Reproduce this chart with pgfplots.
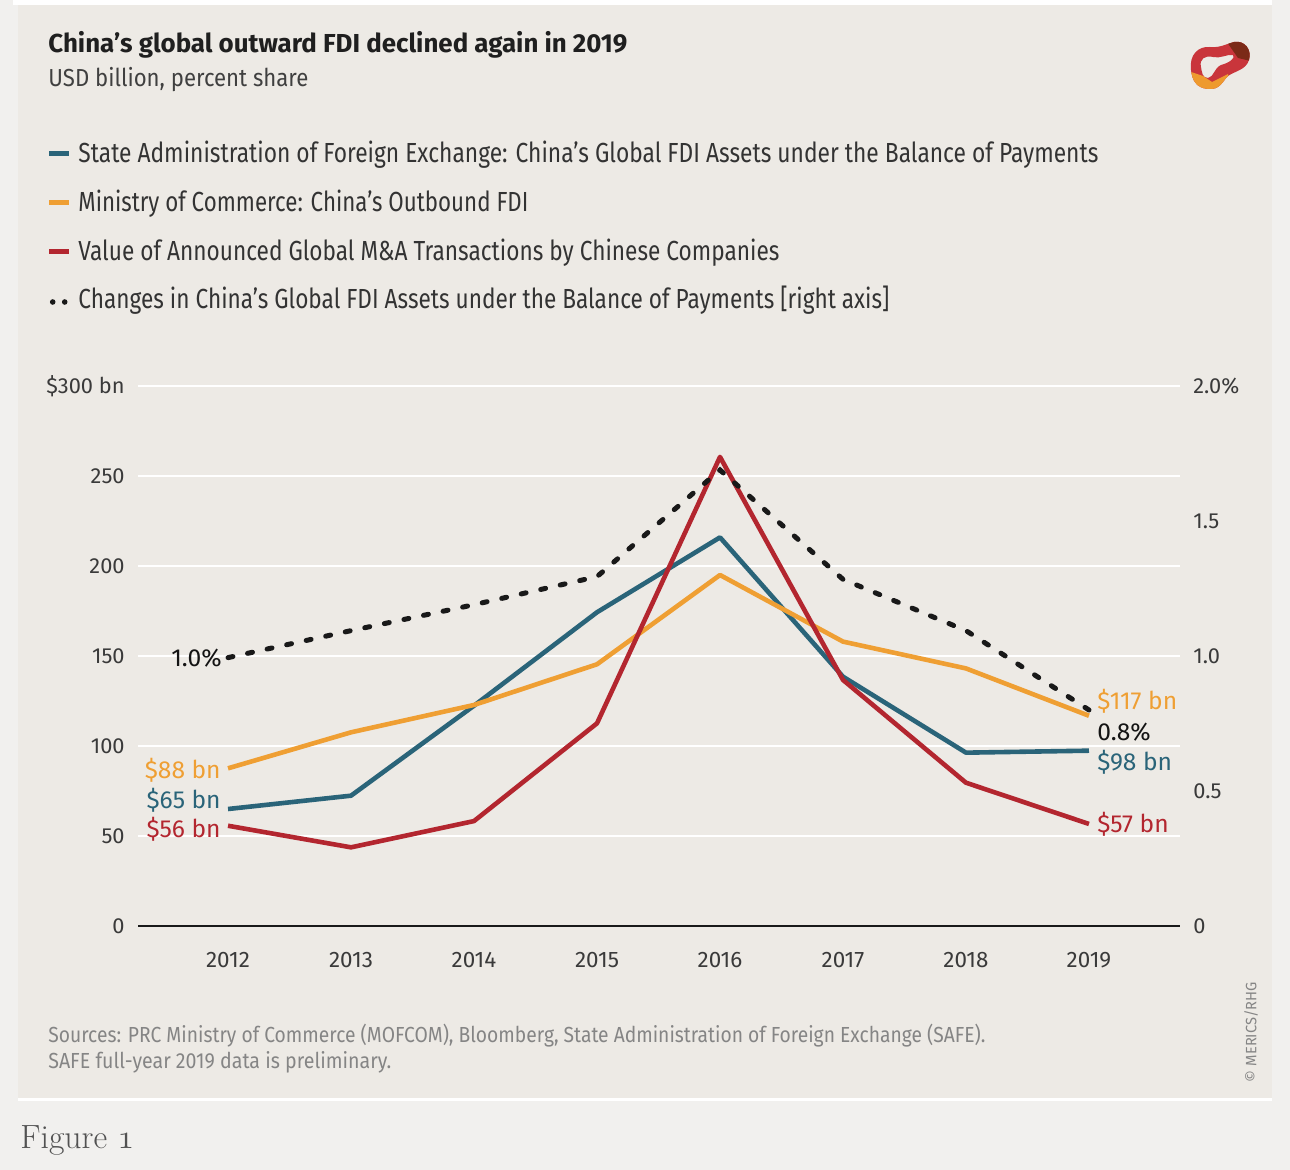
\documentclass[border=0pt]{standalone}
\usepackage{pgfplots}
\pgfplotsset{compat=1.18}
\usepackage{graphicx}
\usepackage{fontspec}
\setmainfont{Fira Sans}
\definecolor{outerbg}{HTML}{F1F0EE}
\definecolor{panelbg}{HTML}{EDEAE5}
\definecolor{cblue}{HTML}{2A6479}
\definecolor{corange}{HTML}{EF9F33}
\definecolor{cred}{HTML}{B3262F}
\definecolor{tickgray}{HTML}{3A3A3A}
\definecolor{srcgray}{HTML}{858585}
\definecolor{logored}{HTML}{C9353B}
\definecolor{logodark}{HTML}{7B2A17}
\definecolor{logoorange}{HTML}{EE9A2E}
\newcommand\fitw[2]{\resizebox{#1}{\height}{#2}}
\newcommand\fs[1]{\fontsize{#1}{#1}\selectfont}

\begin{document}
\begin{tikzpicture}
\useasboundingbox (0pt,0pt) rectangle (645pt,-585pt);
\begin{scope}[x=0.5pt,y=-0.5pt]
 \fill[outerbg] (0,0) rectangle (1290,1170);
 \fill[white] (13,0) rectangle (1272,5);
 \fill[panelbg] (18,5) rectangle (1272,1098);
 \fill[white] (18,1098) rectangle (1272,1101);
 % title and subtitle
 \node[anchor=base west, inner sep=0, text=black!88] at (48,53)
   {\fitw{289.5pt}{\fs{13}\bfseries China’s global outward FDI declined again in 2019}};
 \node[anchor=base west, inner sep=0, text=black!75] at (48,87)
   {\fitw{130pt}{\fs{12.3}USD billion, percent share}};
 % legend
 \draw[cblue, line width=2.5pt] (49,154) -- (69,154);
 \draw[corange, line width=2.5pt] (49,203) -- (69,203);
 \draw[cred, line width=2.5pt] (49,252) -- (69,252);
 \fill[black!90] (52.7,302) circle[radius=1.4pt];
 \fill[black!90] (64.7,302) circle[radius=1.4pt];
 \node[anchor=base west, inner sep=0, text=black!80] at (78,163)
   {\fitw{510pt}{\fs{13.8}State Administration of Foreign Exchange: China’s Global FDI Assets under the Balance of Payments}};
 \node[anchor=base west, inner sep=0, text=black!80] at (78,212)
   {\fitw{225pt}{\fs{13.8}Ministry of Commerce: China’s Outbound FDI}};
 \node[anchor=base west, inner sep=0, text=black!80] at (78,261)
   {\fitw{350.5pt}{\fs{13.8}Value of Announced Global M\&A Transactions by Chinese Companies}};
 \node[anchor=base west, inner sep=0, text=black!80] at (78,309)
   {\fitw{405.5pt}{\fs{13.8}Changes in China’s Global FDI Assets under the Balance of Payments [right axis]}};
 % sources
 \node[anchor=base west, inner sep=0, text=srcgray] at (48,1042)
   {\fitw{468.5pt}{\fs{10.9}Sources: PRC Ministry of Commerce (MOFCOM), Bloomberg, State Administration of Foreign Exchange (SAFE).}};
 \node[anchor=base west, inner sep=0, text=srcgray] at (48,1068)
   {\fitw{171.5pt}{\fs{10.9}SAFE full-year 2019 data is preliminary.}};
 \node[rotate=90, inner sep=0, text=srcgray] at (1251,1032)
   {\fitw{50pt}{\fs{7.5}© MERICS/RHG}};
 % figure caption
 \node[anchor=base west, inner sep=0, text=black!68] at (20,1148)
   {\fontfamily{lmr}\selectfont\fs{16.8}Figure $\mathnormal{1}$};
 % logo
 \begin{scope}[even odd rule]
 \clip
   (1191,70) .. controls (1189,55) and (1198,46) .. (1210,47)
   .. controls (1220,48) and (1226,44) .. (1234,42)
   .. controls (1245,40) and (1252,50) .. (1249,60)
   .. controls (1246,70) and (1235,71) .. (1228,76)
   .. controls (1222,82) and (1220,90) .. (1208,89)
   .. controls (1196,88) and (1192,80) .. (1191,70) -- cycle
   (1201,67) .. controls (1199,59) and (1205,55) .. (1213,57)
   .. controls (1220,59) and (1227,54) .. (1233,55)
   .. controls (1236,58) and (1229,63) .. (1221,65)
   .. controls (1214,68) and (1214,77) .. (1208,78)
   .. controls (1202,78) and (1202,72) .. (1201,67) -- cycle;
 \fill[logored] (1185,35) rectangle (1255,95);
 \fill[logodark] (1222,35) -- (1255,35) -- (1255,62) -- (1238,58) -- cycle;
 \fill[logoorange] (1185,70) -- (1203,76) -- (1212,82) -- (1228,74) -- (1232,95) -- (1185,95) -- cycle;
 \end{scope}
\end{scope}

\begin{axis}[
 at={(69pt,-463pt)}, anchor=south west,
 scale only axis, width=521pt, height=270pt,
 xmin=2011.268, xmax=2019.74, ymin=0, ymax=300,
 axis line style={draw=none}, tick style={draw=none},
 ymajorgrids, grid style={white, line width=1pt},
 ytick={0,50,100,150,200,250,300},
 yticklabels={0,50,100,150,200,250,{\$300 bn}},
 extra y ticks={0}, extra y tick labels={},
 extra y tick style={grid style={black!90, line width=1.1pt}},
 xtick={2012,2013,2014,2015,2016,2017,2018,2019},
 xticklabels={2012,2013,2014,2015,2016,2017,2018,2019},
 yticklabel style={anchor=east, inner sep=0pt, xshift=-6.5pt, font=\fs{10.9}, text=tickgray},
 xticklabel style={anchor=base, inner sep=0pt, yshift=-20.65pt, font=\fs{11.2}, text=tickgray},
 clip=false,
]
\addplot[cblue, line width=2.3pt, line join=round] coordinates
 {(2012,65)(2013,72.4)(2014,122.4)(2015,174.3)(2016,215.9)(2017,138.5)(2018,96.3)(2019,97.4)};
\addplot[corange, line width=2.3pt, line join=round] coordinates
 {(2012,87.6)(2013,107.6)(2014,122.8)(2015,145.4)(2016,195)(2017,158)(2018,143.1)(2019,116.8)};
\addplot[cred, line width=2.3pt, line join=round] coordinates
 {(2012,55.7)(2013,43.7)(2014,58.3)(2015,112.6)(2016,260.6)(2017,136.7)(2018,79.6)(2019,56.7)};
\end{axis}

\begin{axis}[
 at={(69pt,-463pt)}, anchor=south west,
 scale only axis, width=521pt, height=270pt,
 xmin=2011.268, xmax=2019.74, ymin=0, ymax=2,
 hide x axis,
 axis y line*=right, axis line style={draw=none}, tick style={draw=none},
 ytick={0,0.5,1,1.5,2}, yticklabels={0,0.5,1.0,1.5,{2.0\%}},
 yticklabel style={anchor=west, inner sep=0pt, xshift=6.5pt, font=\fs{10.9}, text=tickgray},
 clip=false,
]
\addplot[black!90, line width=2.5pt, line cap=round, dash pattern=on 2.5pt off 7.5pt] coordinates
 {(2012,0.994)(2013,1.094)(2014,1.19)(2015,1.294)(2016,1.689)(2017,1.284)(2018,1.094)(2019,0.8)};
\end{axis}

\begin{scope}[x=0.5pt,y=-0.5pt]
 % end labels
 \node[anchor=base east, inner sep=0, text=corange] at (221,778) {\fs{12.3}\$88 bn};
 \node[anchor=base east, inner sep=0, text=cblue] at (221,808.5) {\fs{12.3}\$65 bn};
 \node[anchor=base east, inner sep=0, text=cred] at (221,837.5) {\fs{12.3}\$56 bn};
 \node[anchor=base east, inner sep=0, text=black!92] at (222,666) {\fs{12.3}1.0\%};
 \node[anchor=base west, inner sep=0, text=corange] at (1097,709) {\fs{12.3}\$117 bn};
 \node[anchor=base west, inner sep=0, text=black!92] at (1097,740) {\fs{12.3}0.8\%};
 \node[anchor=base west, inner sep=0, text=cblue] at (1097,770.5) {\fs{12.3}\$98 bn};
 \node[anchor=base west, inner sep=0, text=cred] at (1097,832.5) {\fs{12.3}\$57 bn};
\end{scope}
\end{tikzpicture}
\end{document}
